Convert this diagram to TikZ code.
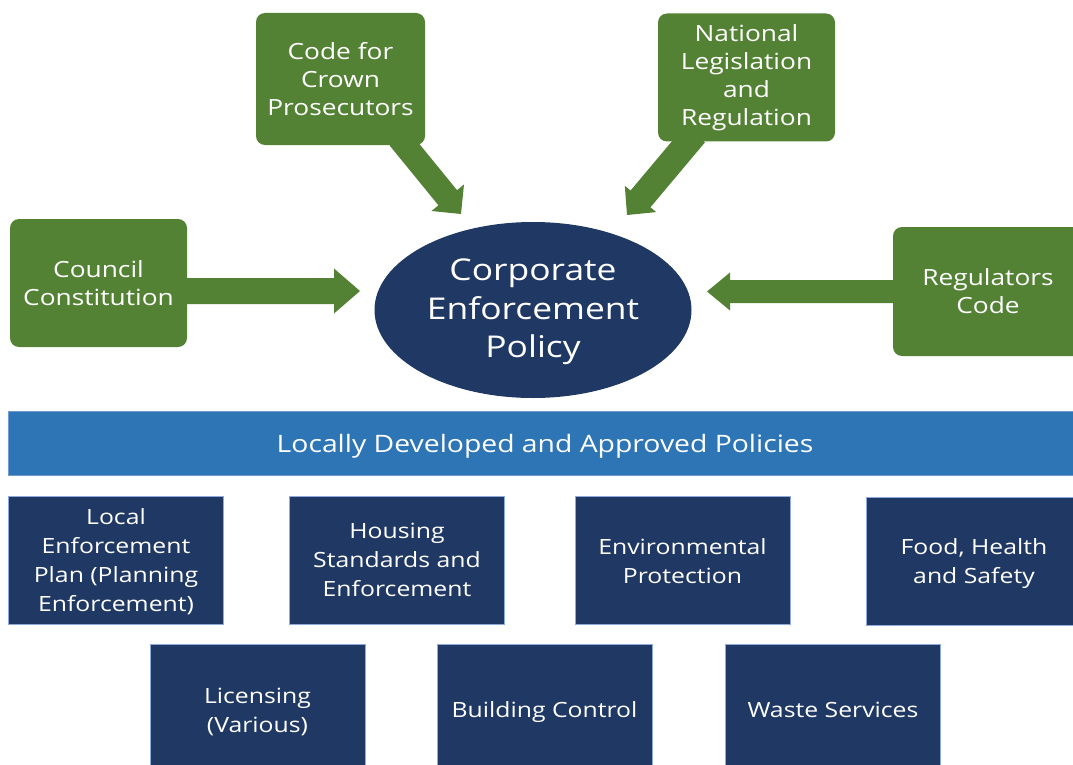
\documentclass[tikz,border=0pt]{standalone}
\usepackage{fontspec}
\setmainfont[FakeStretch=1.18]{Open Sans}
\usetikzlibrary{calc,shapes.geometric}
\definecolor{grn}{HTML}{548235}
\definecolor{navy}{HTML}{203864}
\definecolor{barblue}{HTML}{2E75B6}
\definecolor{edgeblue}{HTML}{8FAADC}
\newcommand\blockarrow[5]{%
  \path ($(#2)!#5!(#1)$) coordinate (bh);
  \fill[grn] ($(#1)!#3!90:(#2)$) -- ($(bh)!#3!90:(#2)$) -- ($(bh)!#4!90:(#2)$) -- (#2)
    -- ($(bh)!#4!-90:(#2)$) -- ($(bh)!#3!-90:(#2)$) -- ($(#1)!#3!-90:(#2)$) -- cycle;}
\begin{document}
\begin{tikzpicture}[x=1pt,y=-1pt,
  greenbox/.style={fill=grn, rounded corners=9pt, text=white, align=center,
    font=\fontsize{22.3}{28}\selectfont, inner sep=0pt},
  navybox/.style={fill=navy, draw=edgeblue, line width=0.8pt, inner sep=0pt,
    minimum width=215pt, minimum height=128pt},
  lowbox/.style={navybox, minimum height=130pt},
  navytxt/.style={text=white, align=center, inner sep=0pt,
    font=\fontsize{21}{29}\selectfont}]
\useasboundingbox (0,0) rectangle (1073,765);

% central policy
\node[ellipse, fill=navy, minimum width=317pt, minimum height=176pt, inner sep=0pt,
  label={[text=white, align=center, inner sep=0pt, yshift=-2pt,
    font=\fontsize{30}{38.5}\selectfont]center:{Corporate\\Enforcement\\Policy}}]
  (cep) at (533,310) {};

% arrow end coordinates
\coordinate (cps-out) at (399,138);
\coordinate (cep-in1) at (461,214);
\coordinate (nlr-out) at (695,134);
\coordinate (cep-in2) at (627,215);
\coordinate (cc-out) at (180,291);
\coordinate (cep-in3) at (360,291);
\coordinate (rc-out) at (900,291.5);
\coordinate (cep-in4) at (707,291.5);

\blockarrow{cps-out}{cep-in1}{12pt}{21pt}{21pt}
\blockarrow{nlr-out}{cep-in2}{13pt}{20.5pt}{21pt}
\blockarrow{cc-out}{cep-in3}{13pt}{22.5pt}{26pt}
\blockarrow{rc-out}{cep-in4}{11.5pt}{19pt}{23pt}

% source boxes
\node[greenbox, minimum width=169pt, minimum height=132pt] (cps) at (340.5,79)
  {Code for\\Crown\\Prosecutors};
\node[greenbox, minimum width=177pt, minimum height=128pt] (nlr) at (746.5,77.5)
  {National\\Legislation\\and\\Regulation};
\node[greenbox, minimum width=177pt, minimum height=128pt] (cc) at (98.5,283)
  {Council\\Constitution};
\node[greenbox, minimum width=190pt, minimum height=129pt] (rc) at (988,291.5)
  {Regulators\\Code};

% bar
\node[fill=barblue, draw=edgeblue!70!barblue, line width=0.8pt,
  minimum width=1074pt, minimum height=64pt, inner sep=0pt,
  label={[text=white, inner sep=0pt, yshift=-3pt, font=\fontsize{24}{28}\selectfont]center:Locally Developed and Approved Policies}]
  (ldap) at (545,443) {};

% policy boxes
\node[navybox, label={[navytxt, yshift=-1.5pt]center:{Local\\Enforcement\\Plan (Planning\\Enforcement)}}] (lep) at (116,560) {};
\node[navybox, label={[navytxt]center:{Housing\\Standards and\\Enforcement}}] (hse) at (397,560) {};
\node[navybox, label={[navytxt, yshift=-1pt]center:{Environmental\\Protection}}] (ep) at (682.5,560) {};
\node[navybox, label={[navytxt, yshift=-3pt]center:{Food, Health\\and Safety}}] (fhs) at (974,561) {};
\node[lowbox, label={[navytxt, yshift=-2.5pt]center:{Licensing\\(Various)}}] (lic) at (257.5,709) {};
\node[lowbox, label={[navytxt, yshift=-3pt]center:{Building Control}}] (bc) at (544.5,709) {};
\node[lowbox, label={[navytxt, yshift=-1pt]center:{Waste Services}}] (ws) at (833,709) {};
\end{tikzpicture}
\end{document}
